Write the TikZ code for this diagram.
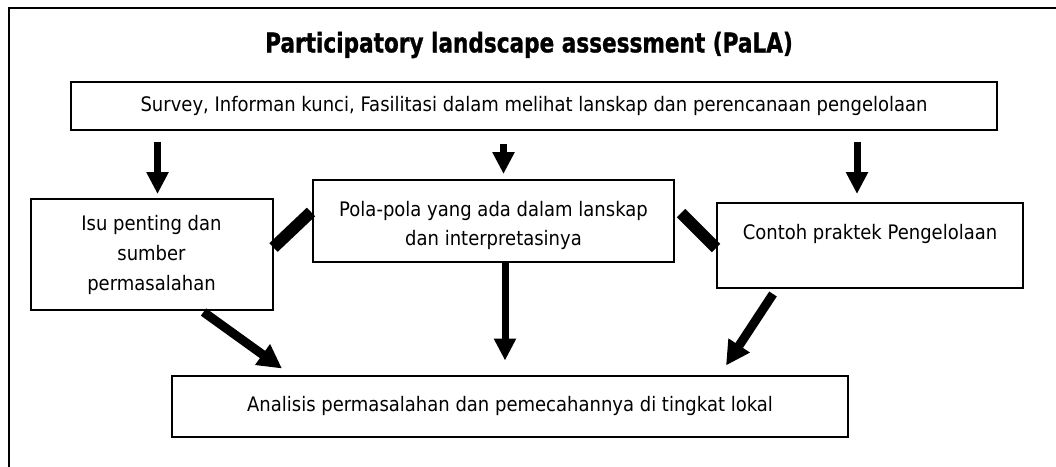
\documentclass[tikz,border=0pt]{standalone}
\usepackage{fontspec}
\setmainfont{DejaVu Sans}[FakeStretch=0.9]
\newfontfamily\titlefont{DejaVu Sans}[BoldFeatures={FakeBold=1.2}]
\usetikzlibrary{arrows.meta,calc}
\begin{document}
\begin{tikzpicture}[x=1pt,y=-1pt,
  box/.style={draw,line width=2pt,inner sep=0pt,font=\fontsize{20}{30}\selectfont,align=center},
  lbl/.style={font=\fontsize{20}{29}\selectfont,align=center},
  arr/.style={line width=7pt,-{Triangle[width=21pt,length=22pt]}},
  darr/.style={line width=9pt,-{Triangle[width=24pt,length=24pt]}},
  barline/.style={line width=12pt},
  frame/.style={line width=2.5pt}]
\useasboundingbox (0,0) rectangle (1056,466);
\coordinate (fA) at (9,470);
\coordinate (fB) at (9,8);
\coordinate (fC) at (1060,8);
\draw[frame] (fA) -- (fB) -- (fC);
\node (title) at (529,45) {\scalebox{0.8}[1]{\titlefont\fontsize{27}{30}\selectfont\bfseries Participatory landscape assessment (PaLA)}};
\node[box,minimum width=926pt,minimum height=48pt] (top) at (534,105.5) {Survey, Informan kunci, Fasilitasi dalam melihat lanskap dan perencanaan pengelolaan};
\node[box,minimum width=242pt,minimum height=111pt] (isu) at (151.5,254.5) {Isu penting dan\\sumber\\permasalahan};
\node[box,minimum width=361pt,minimum height=82pt,label={[lbl,yshift=-4pt]center:Pola-pola yang ada dalam lanskap\\dan interpretasinya}] (pola) at (493.5,221) {};
\node[box,minimum width=306pt,minimum height=85pt,label={[lbl,yshift=12pt]center:Contoh praktek Pengelolaan}] (contoh) at (870,245.5) {};
\node[box,minimum width=676pt,minimum height=61pt] (bottom) at (510,406) {Analisis permasalahan dan pemecahannya di tingkat lokal};
% arrows from top box
\draw[arr] ($(top.south)+(-376.5,11)$) -- ($(isu.north)+(6,-4)$);
\draw[arr] ($(top.south)+(-30.5,13)$) -- ($(pola.north)+(10,-5)$);
\draw[arr] ($(top.south)+(323,11)$) -- ($(contoh.north)+(-13,-8)$);
% thick bars
\draw[barline] ($(isu.east)+(0,-7)$) -- ($(pola.west)+(-1,-9)$);
\draw[barline] ($(pola.east)+(6,-8)$) -- ($(contoh.west)+(0,2.5)$);
% arrows to bottom
\draw[darr] ($(isu.south)+(52,1)$) -- ($(bottom.north)+(-228,-6)$);
\draw[arr] ($(pola.south)+(11.5,0)$) -- ($(bottom.north)+(-5,-14)$);
\draw[darr] ($(contoh.south)+(-97,5)$) -- ($(bottom.north)+(216,-9)$);
\end{tikzpicture}
\end{document}
